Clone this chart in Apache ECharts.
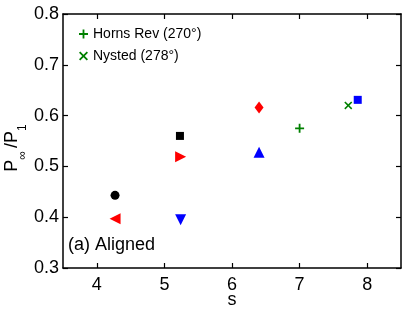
<!DOCTYPE html>
<html>
<head>
<meta charset="utf-8">
<script src="https://cdn.jsdelivr.net/npm/echarts@6/dist/echarts.min.js"></script>
<style>html,body{margin:0;padding:0;background:#fff}#c{width:407px;height:310px}</style>
</head>
<body>
<div id="c"></div>
<script>
// Data (s, P_inf/P_1)
const blackCircle   = [[4.27, 0.443]];
const redLeftTri    = [[4.27, 0.397]];
const blackSquare   = [[5.23, 0.560]];
const redRightTri   = [[5.24, 0.519]];
const blueDownTri   = [[5.24, 0.395]];
const redDiamond    = [[6.40, 0.616]];
const blueUpTri     = [[6.40, 0.528]];
const hornsRev      = [[7.00, 0.575]];
const nysted        = [[7.72, 0.620]];
const blueSquare    = [[7.86, 0.631]];
const legendNames   = ['Horns Rev (270°)', 'Nysted (278°)'];
const xTicks = [4, 5, 6, 7, 8];
const yTicks = [0.3, 0.4, 0.5, 0.6, 0.7, 0.8];

const FONT = 'Liberation Sans, Arial, Helvetica, sans-serif';
const plusPath = 'path://M4,0h2v4h4v2h-4v4h-2v-4h-4v-2h4z';
const crossPath = 'path://M0,1.4L1.4,0L5,3.6L8.6,0L10,1.4L6.4,5L10,8.6L8.6,10L5,6.4L1.4,10L0,8.6L3.6,5z';

function sc(name, data, color, symbol, size, rot) {
  return {
    type: 'scatter', name: name, data: data,
    symbol: symbol, symbolSize: size, symbolRotate: rot || 0,
    itemStyle: { color: color, opacity: 1 },
    emphasis: { disabled: true }, silent: true
  };
}

const chart = echarts.init(document.getElementById('c'), null, { renderer: 'canvas' });
const tickStyle = { show: true, inside: true, length: 5, lineStyle: { color: '#000', width: 1.2 } };
const lineStyle = { show: true, lineStyle: { color: '#000', width: 1.5 } };
chart.setOption({
  animation: false,
  grid: { left: 63, right: 6, top: 14, bottom: 42, containLabel: false, outerBoundsMode: 'none' },
  xAxis: [
    {
      type: 'value', min: 3.5, max: 8.5, interval: 0.5, position: 'bottom',
      axisLine: lineStyle, splitLine: { show: false },
      axisTick: Object.assign({ customValues: xTicks }, tickStyle),
      axisLabel: { fontFamily: FONT, fontSize: 18, color: '#000', margin: 8,
        customValues: xTicks, formatter: v => String(v) },
      name: 's', nameLocation: 'middle', nameGap: 23, nameMoveOverlap: false,
      nameTextStyle: { fontFamily: FONT, fontSize: 18, color: '#000', verticalAlign: 'top' }
    },
    {
      type: 'value', min: 3.5, max: 8.5, interval: 0.5, position: 'top',
      axisLine: lineStyle, splitLine: { show: false },
      axisTick: Object.assign({ customValues: xTicks }, tickStyle),
      axisLabel: { show: false }
    }
  ],
  yAxis: [
    {
      type: 'value', min: 0.3, max: 0.8, interval: 0.1, position: 'left',
      axisLine: lineStyle, splitLine: { show: false }, axisTick: tickStyle,
      axisLabel: { fontFamily: FONT, fontSize: 18, color: '#000', margin: 4,
        formatter: v => v.toFixed(1) },
      name: '{b|P}{s|∞ }{b|/P}{s|1}', nameLocation: 'middle', nameGap: 34, nameRotate: 90,
      nameMoveOverlap: false,
      nameTextStyle: {
        fontFamily: FONT, color: '#000', padding: [0, 14, 0, 0],
        rich: {
          b: { fontFamily: FONT, fontSize: 18, lineHeight: 18, color: '#000', verticalAlign: 'bottom', padding: [0, 0, 8, 0] },
          s: { fontFamily: FONT, fontSize: 12, lineHeight: 12, color: '#000', verticalAlign: 'bottom' }
        }
      }
    },
    {
      type: 'value', min: 0.3, max: 0.8, interval: 0.1, position: 'right',
      axisLine: lineStyle, splitLine: { show: false }, axisTick: tickStyle,
      axisLabel: { show: false }
    }
  ],
  legend: {
    data: legendNames, orient: 'vertical', left: 74, top: 22,
    itemWidth: 9, itemHeight: 9, itemGap: 8,
    textStyle: { fontFamily: FONT, fontSize: 14, color: '#000' },
    selectedMode: false
  },
  graphic: [{
    type: 'text', left: 68, top: 236,
    style: { text: '(a) Aligned', font: '18px ' + FONT, fill: '#000' }
  }],
  series: [
    sc('bc', blackCircle, '#000000', 'circle', 9),
    sc('rl', redLeftTri, '#ff0000', 'triangle', 11, 90),
    sc('bs', blackSquare, '#000000', 'rect', 8),
    sc('rr', redRightTri, '#ff0000', 'triangle', 11, -90),
    sc('bd', blueDownTri, '#0000ff', 'triangle', 11, 180),
    sc('rd', redDiamond, '#ff0000', 'diamond', [9, 12]),
    sc('bu', blueUpTri, '#0000ff', 'triangle', 11),
    sc(legendNames[0], hornsRev, '#008000', plusPath, 9),
    sc(legendNames[1], nysted, '#008000', crossPath, 8),
    sc('bq', blueSquare, '#0000ff', 'rect', 8)
  ]
});
</script>
</body>
</html>
